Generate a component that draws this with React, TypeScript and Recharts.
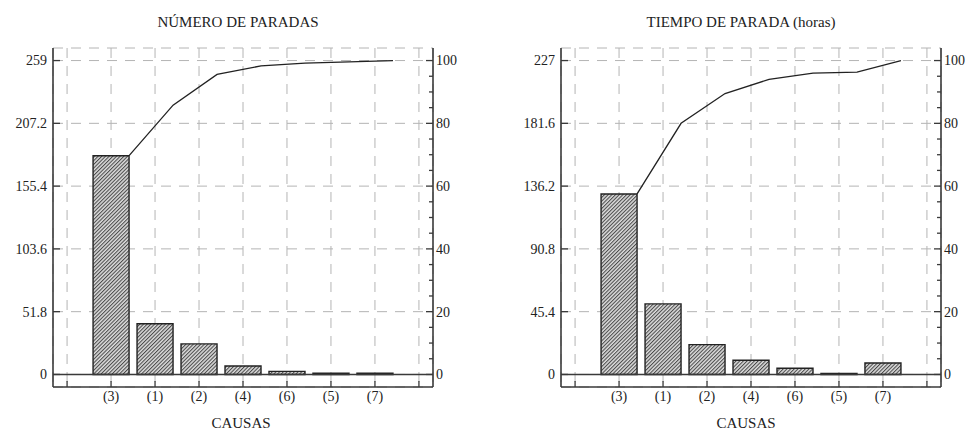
import { ComposedChart, Bar, Line, XAxis, YAxis, CartesianGrid, ReferenceLine } from 'recharts'

// datos
const causas = ['(3)', '(1)', '(2)', '(4)', '(6)', '(5)', '(7)']

const numParadas = [180.5, 41.8, 25.2, 7, 2.5, 1, 1]
const numParadasAcum = [69.7, 85.8, 95.6, 98.3, 99.2, 99.6, 100]
const numParadasTicks = [0, 51.8, 103.6, 155.4, 207.2, 259]

const tiempoParada = [130.5, 51, 21.6, 10.3, 4.5, 0.8, 8.3]
const tiempoParadaAcum = [57.5, 80.0, 89.5, 94.0, 96.0, 96.3, 100]
const tiempoParadaTicks = [0, 45.4, 90.8, 136.2, 181.6, 227]

const pctTicks = [0, 5, 10, 15, 20, 25, 30, 35, 40, 45, 50, 55, 60, 65, 70, 75, 80, 85, 90, 95, 100]
const xTicks = [-1, 0, 1, 2, 3, 4, 5, 6, 7]

const FONT = '"Liberation Serif", "Times New Roman", serif'
const INK = '#222'
const FRAME = '#3a3a3a'
const PAD = 0.32        // margen del eje x en unidades de categoría
const HALF_BAR = 0.41   // media anchura de barra (la curva acumulada va al borde derecho)

const txt = { fontFamily: FONT, fontSize: 14, fill: INK }

/* ---- ticks hacia dentro ---- */
const LeftTick = (props: any) => {
  const { x, y, payload } = props
  return (
    <g>
      <line x1={x} x2={x + 7} y1={y} y2={y} stroke={FRAME} strokeWidth={1.3} />
      <text x={x - 6} y={y} dy="0.35em" textAnchor="end" style={txt}>
        {payload.value}
      </text>
    </g>
  )
}

const RightTick = (props: any) => {
  const { x, y, payload } = props
  const major = payload.value % 20 === 0
  return (
    <g>
      <line x1={x} x2={x - (major ? 7 : 4)} y1={y} y2={y} stroke={FRAME} strokeWidth={1.3} />
      {major && (
        <text x={x + 3} y={y} dy="0.35em" textAnchor="start" style={txt}>
          {payload.value}
        </text>
      )}
    </g>
  )
}

const BottomTick = (props: any) => {
  const { x, y, payload } = props
  const label = causas[payload.value] ?? ''
  return (
    <g>
      <line x1={x} x2={x} y1={y} y2={y - 6} stroke={FRAME} strokeWidth={1.3} />
      <text x={x} y={y + 4} dy="0.71em" textAnchor="middle" style={txt}>
        {label}
      </text>
    </g>
  )
}

const TopTick = (props: any) => {
  const { x, y } = props
  return <line x1={x} x2={x} y1={y} y2={y + 7} stroke={FRAME} strokeWidth={1.3} />
}

interface ParetoProps {
  left: number
  values: number[]
  acum: number[]
  yTicks: number[]
}

function ParetoChart({ left, values, acum, yTicks }: ParetoProps) {
  const data = causas.map((c, i) => ({ idx: i, causa: c, valor: values[i], acum: acum[i] }))
  const yMax = yTicks[yTicks.length - 1]
  const yPad = yMax * 0.04

  return (
    <div style={{ position: 'absolute', left, top: 0 }}>
      <ComposedChart width={480} height={430} data={data} margin={{ top: 48, right: 2, bottom: 13, left: 8 }}>
        <CartesianGrid xAxisId="bar" yAxisId="left" stroke="#b4b4b4" strokeDasharray="10 8" />
        <XAxis
          xAxisId="bar" type="number" dataKey="idx" domain={[-1 - PAD, 7 + PAD]} allowDataOverflow
          ticks={xTicks} interval={0} height={30} tickSize={0} tickMargin={0} tickLine={false}
          axisLine={{ stroke: FRAME, strokeWidth: 1.6 }} tick={<BottomTick />}
        />
        <XAxis
          xAxisId="top" orientation="top" type="number" dataKey="idx" domain={[-1 - PAD, 7 + PAD]} allowDataOverflow
          ticks={xTicks} interval={0} height={0} tickSize={0} tickMargin={0} tickLine={false}
          axisLine={{ stroke: FRAME, strokeWidth: 1.6 }} tick={<TopTick />}
        />
        <XAxis
          xAxisId="line" type="number" dataKey="idx" hide allowDataOverflow
          domain={[-1 - PAD - HALF_BAR, 7 + PAD - HALF_BAR]}
        />
        <YAxis
          yAxisId="left" type="number" domain={[-yPad, yMax + yPad]} allowDataOverflow
          ticks={yTicks} interval={0} width={45} tickSize={0} tickMargin={0} tickLine={false}
          axisLine={{ stroke: FRAME, strokeWidth: 1.6 }} tick={<LeftTick />}
        />
        <YAxis
          yAxisId="pct" orientation="right" type="number" domain={[-4, 104]} allowDataOverflow
          ticks={pctTicks} interval={0} width={45} tickSize={0} tickMargin={0} tickLine={false}
          axisLine={{ stroke: FRAME, strokeWidth: 1.6 }} tick={<RightTick />}
        />
        <ReferenceLine xAxisId="bar" yAxisId="left" y={0} stroke={FRAME} strokeWidth={1.4} />
        <Bar
          xAxisId="bar" yAxisId="left" dataKey="valor" barSize={36}
          fill="url(#hatch)" stroke="#222" strokeWidth={1.4} isAnimationActive={false}
        />
        <Line
          xAxisId="line" yAxisId="pct" dataKey="acum" type="linear"
          stroke="#222" strokeWidth={1.3} dot={false} isAnimationActive={false}
        />
      </ComposedChart>
    </div>
  )
}

export default function App() {
  const title = { fontFamily: FONT, fontSize: 15, fill: INK }
  return (
    <div style={{ position: 'absolute', left: 0, top: 0, width: 965, height: 430, overflow: 'hidden', background: '#fff' }}>
      <svg width={0} height={0} style={{ position: 'absolute' }}>
        <defs>
          <pattern id="hatch" patternUnits="userSpaceOnUse" width={2.6} height={2.6} patternTransform="rotate(45)">
            <rect width={2.6} height={2.6} fill="#dcdcdc" />
            <line x1={0.5} y1={0} x2={0.5} y2={2.6} stroke="#4a4a4a" strokeWidth={1.1} />
          </pattern>
        </defs>
      </svg>
      <ParetoChart left={0} values={numParadas} acum={numParadasAcum} yTicks={numParadasTicks} />
      <ParetoChart left={508} values={tiempoParada} acum={tiempoParadaAcum} yTicks={tiempoParadaTicks} />
      <svg width={965} height={430} style={{ position: 'absolute', left: 0, top: 0, pointerEvents: 'none' }}>
        <g textAnchor="middle">
          <text x={238} y={27} style={title}>NÚMERO DE PARADAS</text>
          <text x={741} y={27} style={title}>TIEMPO DE PARADA (horas)</text>
          <text x={241} y={428} style={title}>CAUSAS</text>
          <text x={746} y={428} style={title}>CAUSAS</text>
        </g>
      </svg>
    </div>
  )
}
